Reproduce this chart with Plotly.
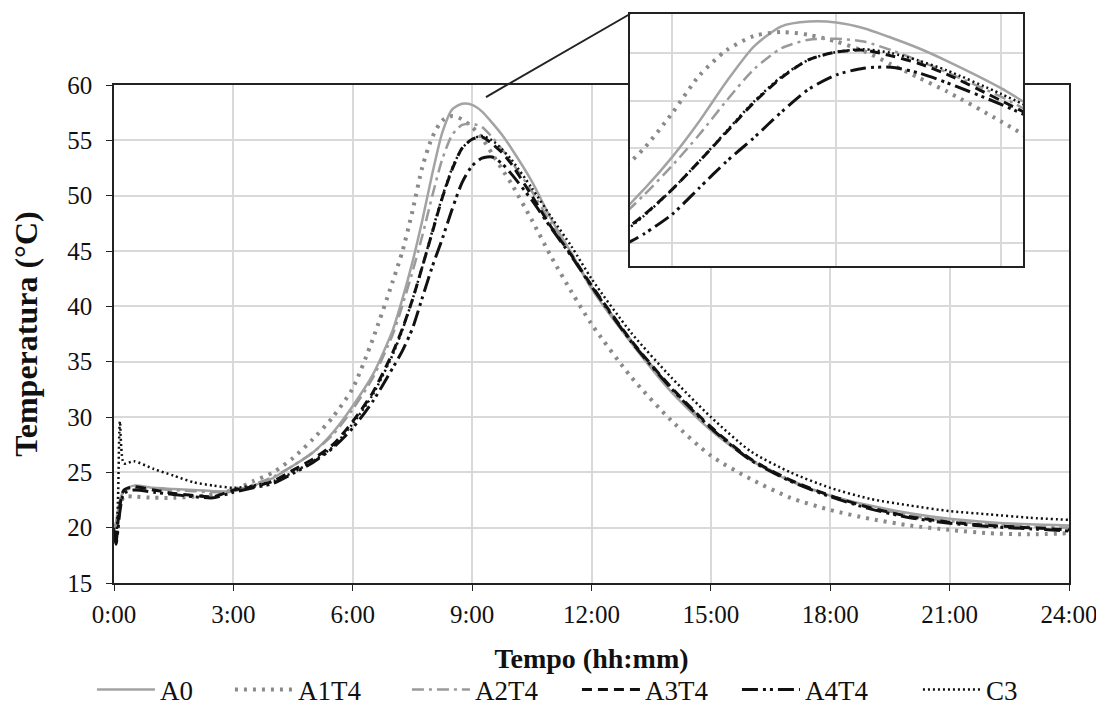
import plotly.graph_objects as go

# ---------------- data (hours, °C) ----------------
times = [0, 0.05, 0.1, 0.15, 0.25, 0.5, 1, 1.5, 2, 2.5, 3, 3.5, 4, 4.5, 5, 5.5, 6, 6.5,
         7, 7.25, 7.5, 7.75, 8, 8.25, 8.5, 8.75, 9, 9.25, 9.5, 9.75, 10, 10.5, 11, 11.5,
         12, 13, 14, 15, 16, 17, 18, 19, 20, 21, 22, 23, 24]

A0 = [20.0, 20.5, 21.6, 22.5, 23.4, 23.8, 23.6, 23.5, 23.4, 23.3, 23.3, 23.8, 24.5, 25.6,
      26.8, 28.6, 31.0, 33.8, 37.8, 40.7, 44.0, 47.8, 52.0, 55.7, 57.8, 58.3, 58.2, 57.6,
      56.6, 55.5, 54.2, 51.3, 47.8, 44.8, 41.6, 36.7, 32.3, 28.8, 26.1, 24.2, 22.9, 22.0,
      21.3, 20.8, 20.5, 20.3, 20.2]
A1T4 = [20.3, 19.8, 21.0, 22.0, 22.8, 22.8, 22.7, 22.7, 22.8, 23.0, 23.4, 24.2, 25.0, 26.3,
        28.0, 30.0, 32.6, 37.0, 42.2, 45.0, 48.6, 52.6, 55.3, 56.8, 57.2, 56.9, 56.2, 55.2,
        53.8, 52.4, 51.0, 47.8, 44.4, 41.3, 38.4, 33.6, 29.7, 26.5, 24.4, 22.7, 21.6, 20.8,
        20.2, 19.8, 19.5, 19.4, 19.5]
A2T4 = [20.0, 20.2, 21.4, 22.3, 23.3, 23.6, 23.5, 23.4, 23.3, 23.2, 23.3, 23.9, 24.6, 25.6,
        26.8, 28.4, 30.7, 33.5, 37.4, 40.1, 43.1, 46.4, 50.0, 53.3, 55.5, 56.4, 56.5, 56.2,
        55.3, 54.2, 53.0, 50.4, 47.4, 44.6, 41.8, 36.9, 32.6, 29.0, 26.2, 24.3, 22.9, 21.9,
        21.1, 20.6, 20.3, 20.1, 20.0]
A3T4 = [19.8, 18.6, 20.5, 22.0, 23.4, 23.7, 23.4, 23.1, 22.9, 22.8, 23.4, 23.7, 24.2, 25.2,
        26.2, 27.5, 29.6, 32.2, 35.8, 38.0, 40.6, 43.6, 46.7, 49.8, 52.4, 54.3, 55.1, 55.3,
        54.7, 53.9, 52.8, 50.0, 47.1, 44.6, 41.9, 36.9, 32.7, 29.1, 26.2, 24.3, 22.9, 21.8,
        21.0, 20.5, 20.2, 20.0, 19.8]
A4T4 = [19.5, 18.5, 19.8, 21.5, 23.1, 23.4, 23.2, 23.0, 22.8, 22.7, 23.2, 23.6, 24.0, 24.9,
        25.9, 27.2, 29.0, 31.4, 34.4, 36.0, 38.0, 40.8, 43.6, 46.1, 48.8, 51.2, 52.7, 53.4,
        53.5, 52.9, 51.9, 49.6, 47.0, 44.5, 41.8, 36.8, 32.6, 29.0, 26.1, 24.2, 22.8, 21.7,
        20.9, 20.4, 20.1, 19.9, 19.7]
C3 = [20.0, 18.6, 22.5, 29.6, 25.8, 26.0, 25.3, 24.7, 24.1, 23.8, 23.6, 23.8, 24.2, 25.0,
      26.0, 27.3, 29.4, 32.0, 35.6, 37.9, 40.6, 43.6, 46.8, 49.9, 52.5, 54.3, 55.1, 55.4,
      55.0, 54.2, 53.2, 50.7, 48.0, 45.4, 42.5, 37.6, 33.6, 30.0, 26.9, 25.0, 23.6, 22.6,
      22.0, 21.5, 21.2, 20.9, 20.7]

series_names = ["A0", "A1T4", "A2T4", "A3T4", "A4T4", "C3"]
series_values = [A0, A1T4, A2T4, A3T4, A4T4, C3]

x_tick_vals = [0, 3, 6, 9, 12, 15, 18, 21, 24]
x_tick_text = ["0:00", "3:00", "6:00", "9:00", "12:00", "15:00", "18:00", "21:00", "24:00"]
inset_x_ticks = [7.5, 9, 10.5]

# ---------------- styles ----------------
styles = {
    "A0":   dict(color="#a3a3a3", width=2.5, dash="solid"),
    "A1T4": dict(color="#8a8a8a", width=4, dash="3px,6px"),
    "A2T4": dict(color="#9a9a9a", width=2.5, dash="12px,5px,3px,5px"),
    "A3T4": dict(color="#111111", width=3, dash="10px,6px"),
    "A4T4": dict(color="#111111", width=3, dash="16px,5px,3px,4px,3px,5px"),
    "C3":   dict(color="#111111", width=2.5, dash="2px,3px"),
}
legend_widths = {"A0": 65, "A1T4": 104, "A2T4": 97, "A3T4": 87, "A4T4": 108, "C3": 40}

FONT = "Liberation Serif"
fig = go.Figure()

for name, vals in zip(series_names, series_values):
    fig.add_trace(go.Scatter(x=times, y=vals, name=name, mode="lines",
                             legendwidth=legend_widths[name],
                             line=dict(shape="spline", smoothing=0.7, **styles[name]),
                             xaxis="x", yaxis="y"))
for name, vals in zip(series_names, series_values):
    fig.add_trace(go.Scatter(x=times, y=vals, name=name, mode="lines", showlegend=False,
                             line=dict(shape="spline", smoothing=0.7, **styles[name]),
                             xaxis="x2", yaxis="y2"))

axis_common = dict(showline=True, linecolor="#222222", linewidth=1.5, mirror=True,
                   gridcolor="#d9d9d9", gridwidth=2, zeroline=False, automargin=False)

fig.update_layout(
    width=1096, height=709,
    margin=dict(l=106, r=35, t=6, b=134, autoexpand=False),
    paper_bgcolor="white", plot_bgcolor="white",
    font=dict(family=FONT, size=25, color="#111111"),
    xaxis=dict(domain=[0, 1], range=[0, 24], tickvals=x_tick_vals, ticktext=x_tick_text,
               ticks="outside", ticklen=6, tickcolor="#222222", ticklabelstandoff=2,
               title=dict(text="<b>Tempo (hh:mm)</b>", font=dict(size=28), standoff=22),
               anchor="y", **axis_common),
    yaxis=dict(domain=[0, 0.8752], range=[15, 60], dtick=5, tick0=15,
               ticks="outside", ticklen=6, tickcolor="#222222", ticklabelstandoff=9,
               title=dict(text="<b>Temperatura (°C)</b>", font=dict(size=32), standoff=22),
               anchor="x", **axis_common),
    xaxis2=dict(domain=[0.5403, 0.9518], range=[7.12, 10.7], tickvals=inset_x_ticks,
                showticklabels=False, anchor="y2", **axis_common),
    yaxis2=dict(domain=[0.5571, 1.0], range=[32.6, 59.1], dtick=5, tick0=15,
                showticklabels=False, anchor="x2", **axis_common),
    legend=dict(orientation="h", x=-0.0231, xanchor="left", y=-0.188, yanchor="middle",
                font=dict(size=27, family=FONT), itemwidth=58, entrywidthmode="pixels",
                bgcolor="rgba(0,0,0,0)"),
    shapes=[dict(type="line", xref="paper", yref="paper", x0=0.3895, y0=0.854,
                 x1=0.5403, y1=1.0, line=dict(color="#222222", width=2))],
)

fig.write_html("out.html")
